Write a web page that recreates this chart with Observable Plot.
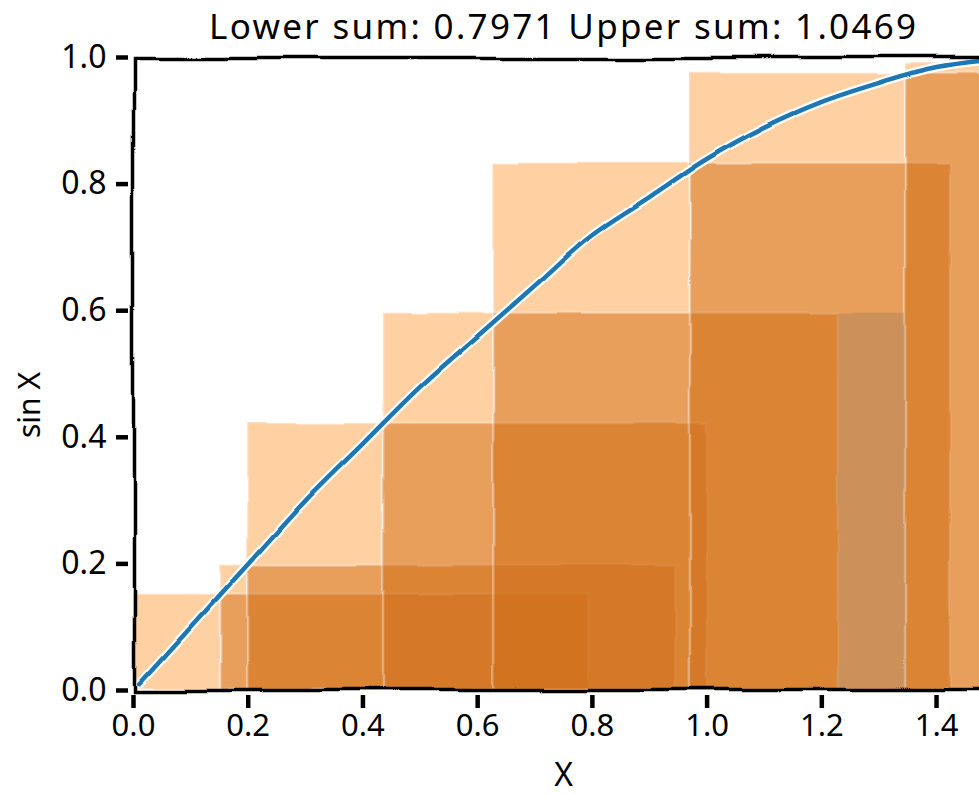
<!DOCTYPE html>
<html>
<head>
<meta charset="utf-8">
<script src="https://cdn.jsdelivr.net/npm/d3@7"></script>
<script src="https://cdn.jsdelivr.net/npm/@observablehq/plot@0.6"></script>
<style>
html, body { margin: 0; padding: 0; background: #fff; overflow: hidden; }
#chart svg { max-width: none !important; }
</style>
</head>
<body>
<div id="chart"></div>
<script>
// ---- data ----
const titleText = "Lower sum: 0.7971 Upper sum: 1.0469";
const xLabel = "X";
const yLabel = "sin X";

// partition points and upper-sum rectangle heights
const partition = [0, 0.152, 0.199, 0.436, 0.628, 0.971, 1.346, 1.5];
const upperHeights = [0.152, 0.198, 0.422, 0.596, 0.833, 0.975, 0.992];

// lower-sum rectangles as drawn (start, end, height)
const lowerStart = [0.152, 0.199, 0.436, 0.628, 0.971, 1.346];
const lowerEnd = [0.793, 0.945, 1.0, 1.229, 1.424, 1.5];
const lowerHeights = [0.152, 0.198, 0.422, 0.596, 0.833, 0.975];

// darker overlap band
const shadeStart = [1.229];
const shadeEnd = [1.346];
const shadeHeights = [0.596];

// sin curve samples
const curveX = [0.01, 0.1, 0.2, 0.3, 0.4, 0.5, 0.6, 0.7, 0.8, 0.9, 1.0, 1.1, 1.2, 1.3, 1.4, 1.5];
const curveY = [0.01, 0.10, 0.20, 0.30, 0.39, 0.48, 0.56, 0.64, 0.72, 0.78, 0.84, 0.89, 0.93, 0.96, 0.985, 0.997];

const xTicks = [0, 0.2, 0.4, 0.6, 0.8, 1.0, 1.2, 1.4];
const yTicks = [0, 0.2, 0.4, 0.6, 0.8, 1.0];

// ---- build tables ----
const upper = partition.slice(0, -1).map((x1, i) => ({x1, x2: partition[i + 1], h: upperHeights[i]}));
const lower = lowerStart.map((x1, i) => ({x1, x2: lowerEnd[i], h: lowerHeights[i]}));
const shade = shadeStart.map((x1, i) => ({x1, x2: shadeEnd[i], h: shadeHeights[i]}));
const curve = curveX.map((x, i) => ({x, y: curveY[i]}));

const FONT = "Noto Sans";
const W = 1010, H = 794;

const rectStyle = {x1: "x1", x2: "x2", y1: 0, y2: "h", stroke: "white", strokeOpacity: 0.32, strokeWidth: 2.5, clip: true};

const plot = Plot.plot({
  width: W,
  height: H,
  marginLeft: 133,
  marginRight: 16.6,
  marginTop: 57,
  marginBottom: 104,
  x: {domain: [0, 1.5]},
  y: {domain: [0, 1]},
  marks: [
    Plot.rect(upper, {...rectStyle, fill: "#ff7f0e", fillOpacity: 0.37}),
    Plot.rect(lower, {...rectStyle, fill: "#d06e16", fillOpacity: 0.5}),
    Plot.rect(shade, {...rectStyle, fill: "#7a6655", fillOpacity: 0.25, strokeOpacity: 0}),
    Plot.line(curve, {x: "x", y: "y", stroke: "white", strokeWidth: 9, curve: "catmull-rom", clip: true}),
    Plot.line(curve, {x: "x", y: "y", stroke: "#1f77b4", strokeWidth: 4.5, curve: "catmull-rom", clip: true}),
    Plot.frame({stroke: "black", strokeWidth: 3.5}),
    Plot.axisX({ticks: xTicks, tickFormat: d3.format(".1f"), tickSize: 13, tickPadding: 5, dy: 5,
      strokeWidth: 4.5, stroke: "black", fill: "black", fontSize: 31, fontFamily: FONT, label: null}),
    Plot.axisY({ticks: yTicks, tickFormat: d3.format(".1f"), tickSize: 12, tickPadding: 10, dx: -5,
      strokeWidth: 4.5, stroke: "black", fill: "black", fontSize: 32, fontFamily: FONT, label: null}),
    Plot.text([titleText], {frameAnchor: "top", dy: -19, lineAnchor: "bottom", fontSize: 35, fontFamily: FONT, fill: "black"}),
    Plot.text([xLabel], {frameAnchor: "bottom", dy: 85, lineAnchor: "middle", fontSize: 32, fontFamily: FONT, fill: "black"}),
    Plot.text([yLabel], {frameAnchor: "left", dx: -103, dy: 31, rotate: -90, textAnchor: "middle", lineAnchor: "middle", fontSize: 30, fontFamily: FONT, fill: "black"})
  ]
});

plot.style.maxWidth = "none";
plot.style.width = W + "px";
plot.style.height = H + "px";

const svgSel = d3.select(plot);

// title letter spacing
svgSel.selectAll("text").filter(function () { return this.textContent === titleText; })
  .style("letter-spacing", "2.3px");

// hand-drawn wobble filters
const defs = svgSel.insert("defs", ":first-child");
function addFilter(id, freq, scale, seed) {
  const f = defs.append("filter").attr("id", id)
    .attr("x", "-5%").attr("y", "-5%").attr("width", "110%").attr("height", "110%");
  f.append("feTurbulence").attr("type", "fractalNoise").attr("baseFrequency", freq)
    .attr("numOctaves", 1).attr("seed", seed).attr("result", "noise");
  f.append("feDisplacementMap").attr("in", "SourceGraphic").attr("in2", "noise")
    .attr("scale", scale).attr("xChannelSelector", "R").attr("yChannelSelector", "G");
}
addFilter("wobFrame", 0.012, 12, 3);
addFilter("wobRect", 0.015, 4, 7);
addFilter("wobLine", 0.02, 4, 11);
svgSel.selectAll('[aria-label="frame"]').attr("filter", "url(#wobFrame)");
svgSel.selectAll('g[aria-label="rect"]').attr("filter", "url(#wobRect)");
svgSel.selectAll('g[aria-label="line"]').attr("filter", "url(#wobLine)");

document.getElementById("chart").appendChild(plot);
</script>
</body>
</html>
